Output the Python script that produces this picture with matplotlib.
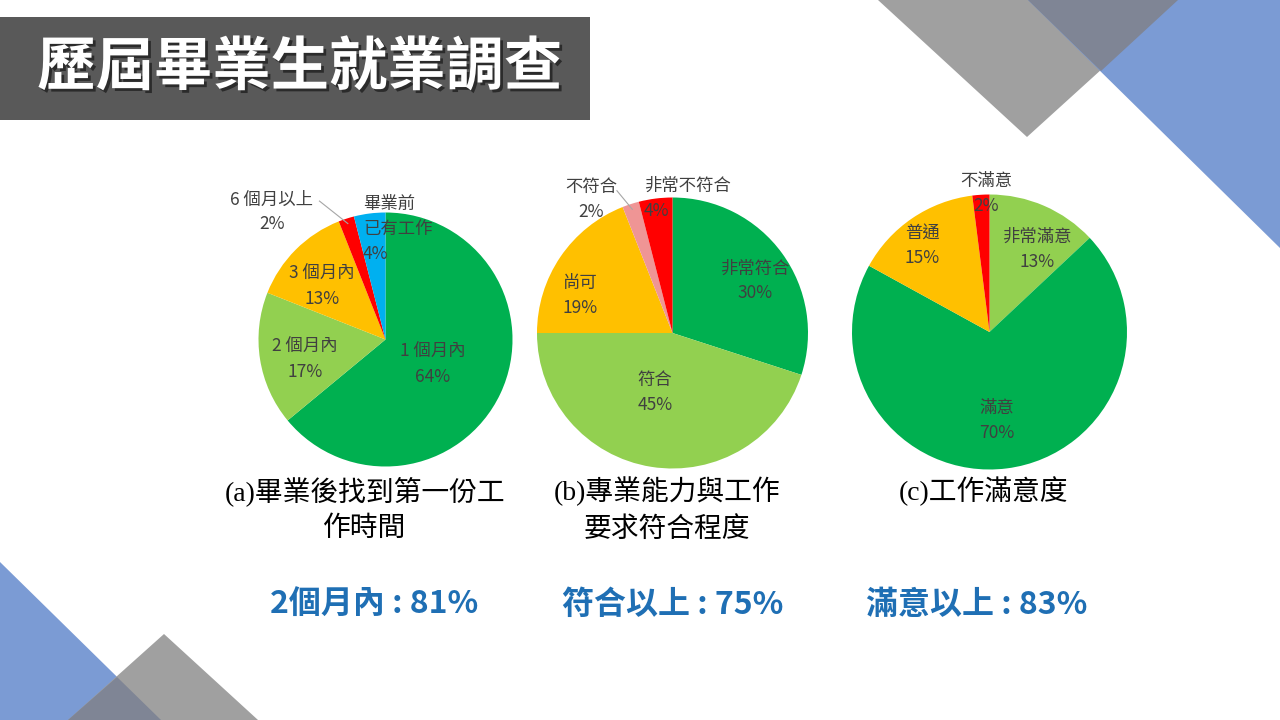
import numpy as np
import matplotlib
matplotlib.use('Agg')
import matplotlib.pyplot as plt
from matplotlib.patches import Polygon, Rectangle
import matplotlib.patheffects as pe

plt.rcParams['font.family'] = ['Noto Sans CJK TC', 'DejaVu Sans']

# ---- data ----
labels_a = ['1 個月內', '2 個月內', '3 個月內', '6 個月以上', '畢業前\n已有工作']
values_a = [64, 17, 13, 2, 4]
labels_b = ['非常符合', '符合', '尚可', '不符合', '非常不符合']
values_b = [30, 45, 19, 2, 4]
labels_c = ['非常滿意', '滿意', '普通', '不滿意']
values_c = [13, 70, 15, 2]

captions = ['(a)畢業後找到第一份工\n作時間', '(b)專業能力與工作\n要求符合程度', '(c)工作滿意度']
summaries = ['2個月內 : 81%', '符合以上 : 75%', '滿意以上 : 83%']
title = '歷屆畢業生就業調查'

# ---- styles ----
DG, LG, OR, RD, BL, PK = '#00b050', '#92d050', '#ffc000', '#ff0000', '#00b0f0', '#ef9595'
colors_a = [DG, LG, OR, RD, BL]
colors_b = [DG, LG, OR, PK, RD]
colors_c = [LG, DG, OR, RD]

# label positions (fractions of radius) and horizontal alignment
pos_a = [(0.374, -0.20), (-0.634, -0.16), (-0.50, 0.415), (-0.894, 1.004), (-0.177, 0.870)]
ha_a = ['center', 'center', 'center', 'center', 'left']
pos_b = [(0.609, 0.385), (-0.129, -0.44), (-0.683, 0.275), (-0.601, 0.982), (-0.210, 0.993)]
ha_b = ['center', 'center', 'center', 'center', 'left']
pos_c = [(0.345, 0.600), (0.055, -0.640), (-0.491, 0.628), (-0.025, 1.007)]
ha_c = ['center'] * 4

W, H = 1280, 720
fig = plt.figure(figsize=(12.8, 7.2), dpi=100)
fig.patch.set_facecolor('white')
bg = fig.add_axes([0, 0, 1, 1])
bg.set_xlim(0, W)
bg.set_ylim(H, 0)
bg.axis('off')

# decorative triangles, top right
bg.add_patch(Polygon([(878, 0), (1178, 0), (1027, 137)], closed=True, color='#a0a0a0', lw=0))
bg.add_patch(Polygon([(1028, 0), (1280, 0), (1280, 248)], closed=True, color='#7b9bd4', lw=0))
bg.add_patch(Polygon([(1028, 0), (1178, 0), (1101, 71)], closed=True, color='#7f8595', lw=0))
# bottom left
bg.add_patch(Polygon([(0, 562), (0, 720), (161, 720)], closed=True, color='#7b9bd4', lw=0))
bg.add_patch(Polygon([(164, 634), (68, 720), (258, 720)], closed=True, color='#a0a0a0', lw=0))
bg.add_patch(Polygon([(117, 677), (68, 720), (161, 720)], closed=True, color='#7f8595', lw=0))

# title box
bg.add_patch(Rectangle((0, 17), 590, 103, color='#595959', lw=0))
bg.text(300, 68, title, color='white', fontsize=42, fontweight='bold',
        ha='center', va='center',
        path_effects=[pe.withSimplePatchShadow(offset=(2, -2), shadow_rgbFace='#202020', alpha=0.8)])


def draw_pie(cx, cy, r, values, labels, colors, pos, has, leader=None):
    span = 1.6
    size = 2 * span * r
    ax = fig.add_axes([(cx - size / 2) / W, 1 - (cy + size / 2) / H, size / W, size / H])
    wedges, _ = ax.pie(values, colors=colors, startangle=90, counterclock=False,
                       radius=1, wedgeprops=dict(linewidth=0))
    ax.set_xlim(-span, span)
    ax.set_ylim(-span, span)
    ax.set_aspect('equal')
    ax.axis('off')
    for lab, v, (x, y), ha in zip(labels, values, pos, has):
        ax.text(x, y, f'{lab}\n{v}%', ha=ha, va='center', multialignment=ha,
                fontsize=12.5, color='#404040', linespacing=1.5)
    if leader is not None:
        idx, (lx, ly) = leader
        w = wedges[idx]
        mid = np.deg2rad((w.theta1 + w.theta2) / 2)
        ax.plot([lx, 0.96 * np.cos(mid)], [ly, 0.96 * np.sin(mid)], color='#a6a6a6', lw=0.8)
    return ax


draw_pie(385.5, 339.5, 127, values_a, labels_a, colors_a, pos_a, ha_a, leader=(3, (-0.52, 1.09)))
draw_pie(672.5, 333, 135.5, values_b, labels_b, colors_b, pos_b, ha_b, leader=(3, (-0.41, 1.05)))
draw_pie(989.5, 332, 137.5, values_c, labels_c, colors_c, pos_c, ha_c)

# captions (top line at y=492)
cap_x = [365, 667, 984]
for x, cap in zip(cap_x, captions):
    bg.text(x, 476, cap, ha='center', va='top', fontsize=20, color='black',
            family=['Liberation Serif', 'Noto Sans CJK TC'], multialignment='center',
            linespacing=1.55)

# summary lines
sum_x = [374, 673, 977]
for x, s in zip(sum_x, summaries):
    bg.text(x, 605, s, ha='center', va='center', fontsize=23, color='#1f6fb4', fontweight='bold')

fig.savefig('out.png', dpi=100, facecolor='white')
